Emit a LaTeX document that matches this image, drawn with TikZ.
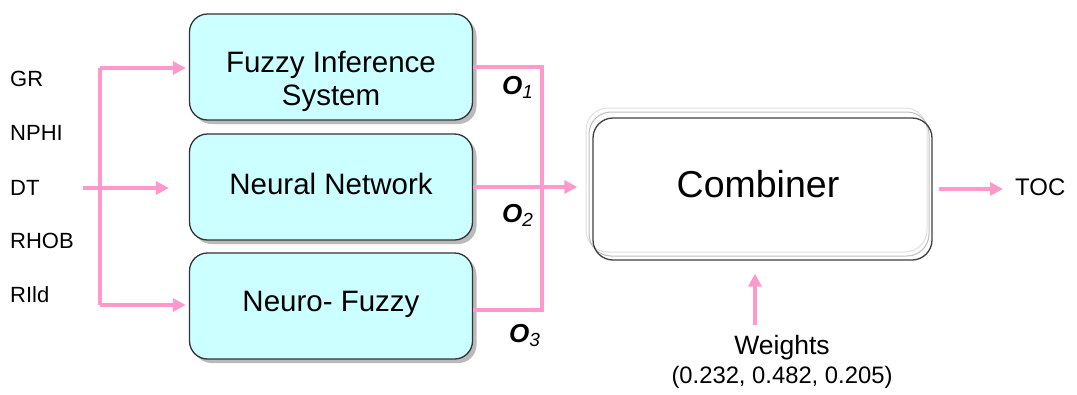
\documentclass[tikz,border=0pt]{standalone}
\usepackage{fontspec}
\setmainfont{Liberation Sans}
\usetikzlibrary{arrows.meta,shadows}
\definecolor{flow}{RGB}{255,153,204}
\definecolor{boxfill}{RGB}{204,255,255}
\tikzset{
  pk/.style={draw=flow, line width=3.6pt},
  tip/.style={-{Triangle[length=13pt,width=13pt]}},
  model/.style={draw=black!80, line width=1.3pt, fill=boxfill, rounded corners=18pt,
    minimum width=283pt, minimum height=106pt, align=center,
    font=\fontsize{29.5}{33}\selectfont,
    drop shadow={shadow xshift=4pt, shadow yshift=-4pt, fill=black!45, opacity=.6}},
  modeltext/.style={align=center, inner sep=0pt, font=\fontsize{29.5}{33}\selectfont},
  inlab/.style={anchor=base west, inner sep=0pt, font=\fontsize{22}{26}\selectfont},
  olab/.style={anchor=base west, inner sep=0pt, font=\fontsize{26}{30}\selectfont\itshape},
}
\newcommand{\outsym}[1]{\textbf{O}\textsubscript{\fontsize{19}{21}\selectfont #1}}
\begin{document}
\begin{tikzpicture}[x=1pt,y=-1pt]
\useasboundingbox (0,0) rectangle (1077,394);

% model blocks
\node[model] (fis) at (331,67) {};
\node[modeltext] (fist) at (331,81) {Fuzzy Inference\\System};
\node[model] (nn)  at (331,187) {};
\node[modeltext] (nnt) at (331,184) {Neural Network};
\node[model] (nf)  at (331,306) {};
\node[modeltext] (nft) at (331,304) {Neuro- Fuzzy};

% combiner with its soft outline
\draw[black!12, line width=1pt, rounded corners=22pt] (586,108) rectangle (927,252);
\draw[black!25, line width=1pt, rounded corners=22pt] (589,112) rectangle (929,256);
\node[draw=black!75, line width=1.3pt, rounded corners=20pt, minimum width=339pt,
      minimum height=142pt] (comb) at (762.5,189) {};
\node[inner sep=0pt, font=\fontsize{37.5}{40}\selectfont] (combt) at (758,184) {Combiner};

% inputs
\node[inlab] (gr)   at (10,86)  {GR};
\node[inlab] (nphi) at (10,140) {NPHI};
\node[inlab] (dt)   at (10,195) {DT};
\node[inlab] (rhob) at (10,248) {RHOB};
\node[inlab] (rild) at (10,302) {RIld};

% input bus
\coordinate (bin)  at (83,188);
\coordinate (btop) at (100,68);
\coordinate (bbot) at (100,305);
\draw[pk] (btop) -- (bbot);
\draw[pk,tip,shorten >=3pt] (btop) -- (btop -| fis.west);
\draw[pk,tip,shorten >=3pt] (bbot) -- (bbot -| nf.west);
\draw[pk,tip,shorten >=20pt] (bin) -- (bin -| nn.west);

% output bus
\coordinate (o1) at (542,67);
\coordinate (o3) at (542,310);
\draw[pk] (fis.east |- o1) -- (o1) -- (o3) -- (nf.east |- o3);
\draw[pk,tip,shorten >=15pt] (nn.east) -- (nn.east -| comb.west);

\node[olab] (l1) at (502,94)  {\outsym{1}};
\node[olab] (l2) at (502,222) {\outsym{2}};
\node[olab] (l3) at (509,342) {\outsym{3}};

% output and weights
\node[inlab, font=\fontsize{24}{28}\selectfont] (toc) at (1015,195) {TOC};
\draw[pk,tip,shorten <=6pt,shorten >=12pt] (comb.east) -- (comb.east -| toc.west);

\node[align=center, inner sep=0pt, font=\fontsize{26.5}{29}\selectfont] (w) at (782,362)
  {Weights\\{\fontsize{23.8}{28}\selectfont(0.232, 0.482, 0.205)}};
\coordinate (wt) at (755,325);
\draw[pk,tip,shorten >=13pt] (wt) -- (wt |- comb.south);
\end{tikzpicture}
\end{document}
